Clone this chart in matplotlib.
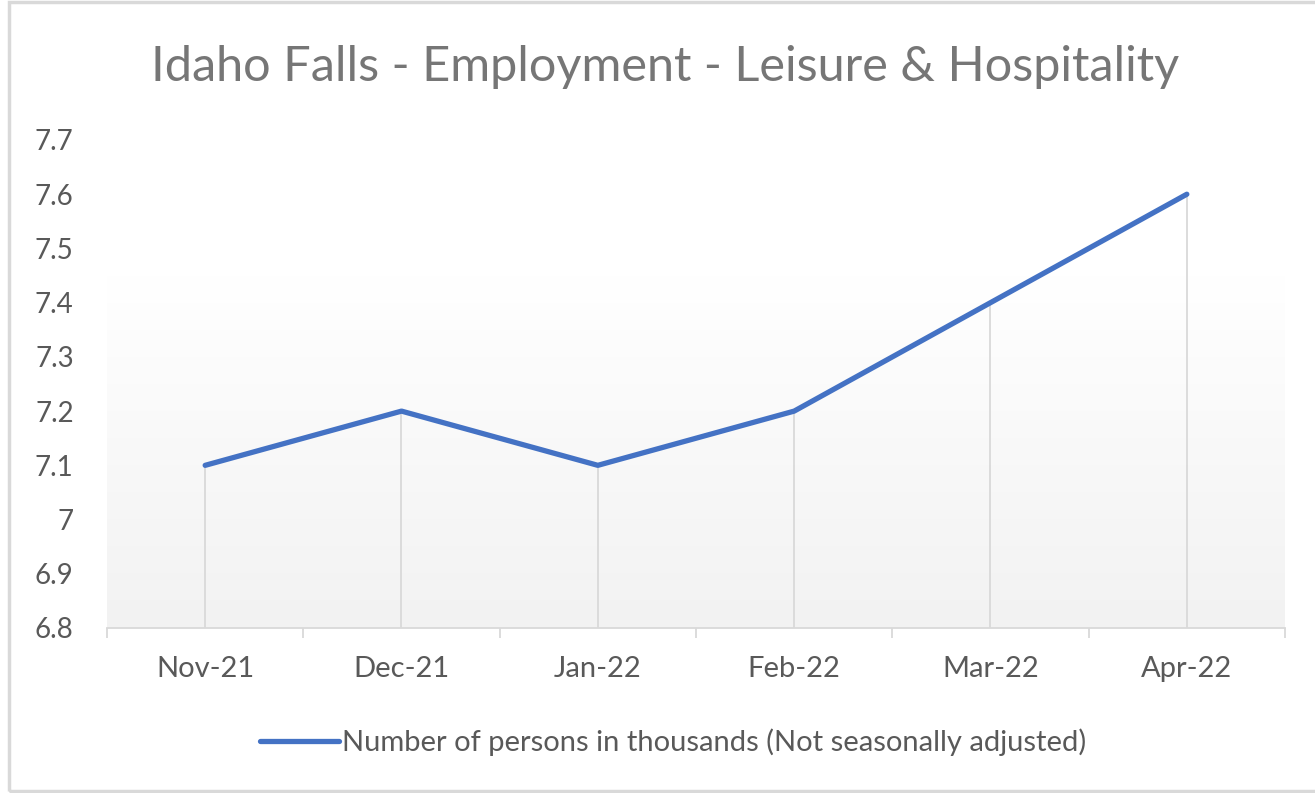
import numpy as np
import matplotlib
matplotlib.use('Agg')
import matplotlib.pyplot as plt
from matplotlib.patches import Rectangle

months = ['Nov-21', 'Dec-21', 'Jan-22', 'Feb-22', 'Mar-22', 'Apr-22']
persons = [7.1, 7.2, 7.1, 7.2, 7.4, 7.6]
y_ticks = [6.8, 6.9, 7.0, 7.1, 7.2, 7.3, 7.4, 7.5, 7.6, 7.7]
y_labels = ['6.8', '6.9', '7', '7.1', '7.2', '7.3', '7.4', '7.5', '7.6', '7.7']

plt.rcParams['font.family'] = ['Lato', 'DejaVu Sans']

fig = plt.figure(figsize=(13.15, 7.93), dpi=100)
ax = fig.add_axes([107/1315, 1-628/793, 1178/1315, 488/793])

x = np.arange(len(months))
ax.set_xlim(-0.5, len(months)-0.5)
ax.set_ylim(6.8, 7.7)

# soft grey gradient in the lower part of the plot area
grad = np.linspace(0, 1, 256).reshape(-1, 1)
cmap = matplotlib.colors.LinearSegmentedColormap.from_list('g', ['#f2f2f2', '#ffffff'])
ax.imshow(grad, aspect='auto', cmap=cmap, origin='lower',
          extent=(-0.5, len(months)-0.5, 6.8, 7.45), zorder=0)

ax.vlines(x, 6.8, persons, color='#d9d9d9', lw=1.3, zorder=1)
ax.plot(x, persons, color='#4472C4', lw=3.8, solid_capstyle='round',
        label='Number of persons in thousands (Not seasonally adjusted)', zorder=3)

for s in ['top', 'right', 'left']:
    ax.spines[s].set_visible(False)
ax.spines['bottom'].set_color('#d9d9d9')
ax.spines['bottom'].set_linewidth(1.3)

ax.set_xticks(x)
ax.set_xticklabels(months)
ax.set_xticks(np.arange(-0.5, len(months)), minor=True)
ax.tick_params(axis='x', which='major', length=0, pad=20, labelsize=21, labelcolor='#595959')
ax.tick_params(axis='x', which='minor', length=7, width=1.3, color='#d9d9d9')
ax.set_yticks(y_ticks)
ax.set_yticklabels(y_labels)
ax.tick_params(axis='y', length=0, pad=24, labelsize=20, labelcolor='#595959')

fig.text(0.506, 0.916, 'Idaho Falls - Employment - Leisure & Hospitality',
         ha='center', va='center', fontsize=35, color='#767676')

fig.legend(loc='center', bbox_to_anchor=(0.512, 0.064), frameon=False,
           fontsize=21, labelcolor='#595959', handlelength=2.7, handletextpad=0.1)

fig.patches.append(Rectangle((9/1315, 2/793), 1.5, 789/793, transform=fig.transFigure,
                             fill=False, edgecolor='#d9d9d9', lw=2.5))

fig.savefig('out.png', dpi=100)
